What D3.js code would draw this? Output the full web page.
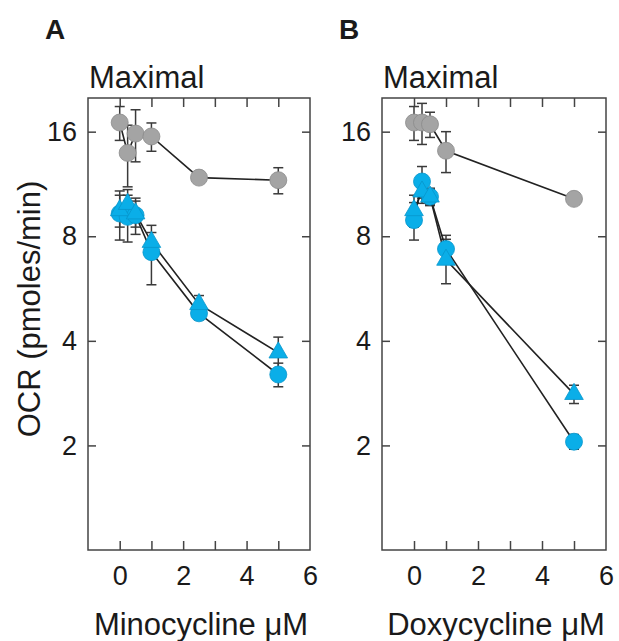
<!DOCTYPE html>
<html>
<head>
<meta charset="utf-8">
<script src="https://cdn.jsdelivr.net/npm/d3@7"></script>
<style>
  body { margin: 0; background: #fff; }
  text { font-family: "Liberation Sans", Arial, sans-serif; fill: #1a1a1a; }
</style>
</head>
<body>
<div id="chart"></div>
<script>
// data (OCR, pmoles/min)
const mino_x = [0, 0.25, 0.5, 1, 2.5, 5];
const mino_gray = [17.0, 13.9, 15.8, 15.5, 11.8, 11.6];
const mino_gray_err = [1.9, 2.8, 2.7, 1.45, 0.3, 1.0];
const mino_circle = [9.3, 9.1, 9.2, 7.2, 4.8, 3.2];
const mino_circle_err = [1.5, 1.4, 1.1, 1.4, 0.2, 0.25];
const mino_tri = [9.5, 9.9, 9.3, 7.7, 5.1, 3.7];
const mino_tri_err = [1.0, 1.0, 0.8, 0.5, 0.3, 0.4];

const doxy_x = [0, 0.25, 0.5, 1, 5];
const doxy_gray = [17.0, 17.0, 16.8, 14.1, 10.25];
const doxy_gray_err = [1.9, 2.3, 1.4, 1.9, 0.3];
const doxy_circle = [8.9, 11.5, 10.4, 7.35, 2.05];
const doxy_circle_err = [1.1, 1.2, 0.6, 0.7, 0.1];
const doxy_tri = [9.5, 10.75, 10.4, 6.84, 2.81];
const doxy_tri_err = [1.0, 0.8, 0.5, 1.0, 0.17];

const y_ticks = [2, 4, 8, 16];
const x_ticks = [0, 1, 2, 3, 4, 5];
const x_labels = [0, 2, 4, 6];

const width = 619;
const height = 641;
const top_y = 98, bottom_y = 550;

const gray_fill = '#a4a4a4', gray_stroke = '#8a8a8a';
const blue_fill = '#0aaee8', blue_stroke = '#0796cc';

const svg = d3.select('#chart').append('svg')
    .attr('width', width).attr('height', height);
svg.append('rect').attr('width', width).attr('height', height).attr('fill', '#fff');

const y = d3.scaleLog().domain([1, 20]).range([bottom_y, top_y]);

function drawPanel(letter, left, right, xs, gray, grayErr, circ, circErr, tri, triErr, title) {
  const x = d3.scaleLinear().domain([-1, 6]).range([left, right]);
  const g = svg.append('g');

  // frame + ticks
  g.append('rect')
      .attr('x', left).attr('y', top_y)
      .attr('width', right - left).attr('height', bottom_y - top_y)
      .attr('fill', 'none').attr('stroke', '#444').attr('stroke-width', 1.5);

  g.append('g').attr('transform', `translate(0,${bottom_y})`)
      .call(d3.axisBottom(x).tickValues(x_ticks).tickSize(-9).tickFormat(''))
      .call(a => a.select('.domain').remove());
  g.append('g').attr('transform', `translate(0,${top_y})`)
      .call(d3.axisTop(x).tickValues(x_ticks).tickSize(-9).tickFormat(''))
      .call(a => a.select('.domain').remove());
  g.append('g').attr('transform', `translate(0,${bottom_y})`)
      .call(d3.axisBottom(x).tickValues(x_labels).tickSize(0).tickPadding(16).tickFormat(d3.format('d')))
      .call(a => a.select('.domain').remove())
      .call(a => a.selectAll('text').style('font-size', '27px').attr('fill', '#1a1a1a'));
  g.append('g').attr('transform', `translate(${left},0)`)
      .call(d3.axisLeft(y).tickValues(y_ticks).tickSize(-8).tickPadding(11).tickFormat(d3.format('d')))
      .call(a => a.select('.domain').remove())
      .call(a => a.selectAll('text').style('font-size', '27px').attr('fill', '#1a1a1a'));
  g.append('g').attr('transform', `translate(${right},0)`)
      .call(d3.axisRight(y).tickValues(y_ticks).tickSize(-8).tickFormat(''))
      .call(a => a.select('.domain').remove());
  g.selectAll('.tick line').attr('stroke', '#444').attr('stroke-width', 1.5);

  // labels
  svg.append('text').attr('x', left - 43).attr('y', 39)
      .style('font-size', '28px').style('font-weight', 'bold').attr('fill', '#000')
      .text(letter);
  svg.append('text').attr('x', left + 1).attr('y', 88)
      .style('font-size', '31px')
      .text('Maximal');
  svg.append('text').attr('x', (left + right) / 2 + 2).attr('y', 635)
      .attr('text-anchor', 'middle').style('font-size', '31px')
      .text(title);

  const series = [
    {v: gray, e: grayErr, shape: 'circle', fill: gray_fill, stroke: gray_stroke},
    {v: circ, e: circErr, shape: 'circle', fill: blue_fill, stroke: blue_stroke},
    {v: tri, e: triErr, shape: 'triangle', fill: blue_fill, stroke: blue_stroke}
  ];

  // error bars
  for (const s of series) {
    const pts = xs.map((d, i) => ({x: d, v: s.v[i], e: s.e[i]}));
    const eb = g.append('g').attr('stroke', '#3a3a3a').attr('stroke-width', 1.5);
    eb.selectAll('line.v').data(pts).enter().append('line')
        .attr('x1', d => x(d.x)).attr('x2', d => x(d.x))
        .attr('y1', d => y(d.v + d.e)).attr('y2', d => y(d.v - d.e));
    eb.selectAll('line.t').data(pts).enter().append('line')
        .attr('x1', d => x(d.x) - 5).attr('x2', d => x(d.x) + 5)
        .attr('y1', d => y(d.v + d.e)).attr('y2', d => y(d.v + d.e));
    eb.selectAll('line.b').data(pts).enter().append('line')
        .attr('x1', d => x(d.x) - 5).attr('x2', d => x(d.x) + 5)
        .attr('y1', d => y(d.v - d.e)).attr('y2', d => y(d.v - d.e));
  }

  // connecting lines
  const line = d3.line().x(d => x(d[0])).y(d => y(d[1]));
  for (const s of series) {
    g.append('path')
        .datum(xs.map((d, i) => [d, s.v[i]]))
        .attr('d', line)
        .attr('fill', 'none').attr('stroke', '#222').attr('stroke-width', 1.6);
  }

  // markers
  for (const s of series) {
    const pts = xs.map((d, i) => [d, s.v[i]]);
    if (s.shape === 'circle') {
      g.append('g').selectAll('circle').data(pts).enter().append('circle')
          .attr('cx', d => x(d[0])).attr('cy', d => y(d[1])).attr('r', 8.5)
          .attr('fill', s.fill).attr('stroke', s.stroke).attr('stroke-width', 0.8);
    } else {
      g.append('g').selectAll('path').data(pts).enter().append('path')
          .attr('d', d3.symbol(d3.symbolTriangle, 150))
          .attr('transform', d => `translate(${x(d[0])},${y(d[1])})`)
          .attr('fill', s.fill).attr('stroke', s.stroke).attr('stroke-width', 0.8);
    }
  }
}

drawPanel('A', 88, 310, mino_x, mino_gray, mino_gray_err, mino_circle, mino_circle_err, mino_tri, mino_tri_err, 'Minocycline μM');
drawPanel('B', 382, 606, doxy_x, doxy_gray, doxy_gray_err, doxy_circle, doxy_circle_err, doxy_tri, doxy_tri_err, 'Doxycycline μM');

// y axis title
svg.append('text')
    .attr('transform', 'translate(40,309) rotate(-90)')
    .attr('text-anchor', 'middle')
    .style('font-size', '31px')
    .text('OCR (pmoles/min)');
</script>
</body>
</html>
